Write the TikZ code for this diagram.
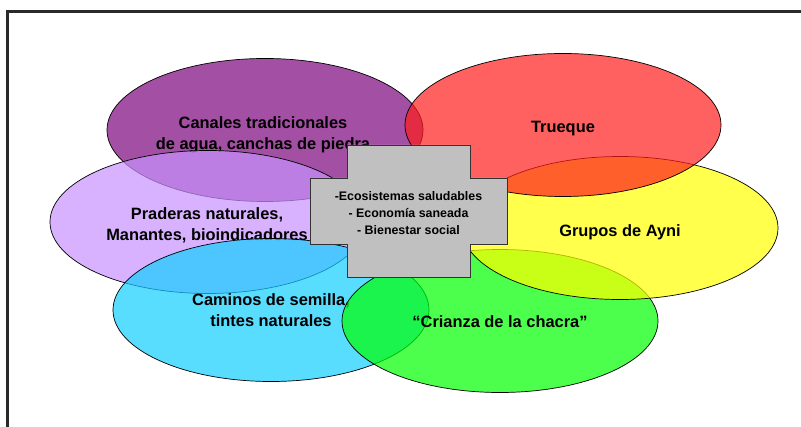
\documentclass[tikz,border=0pt]{standalone}
\usepackage{fontspec}
\setmainfont{Liberation Sans}
\usetikzlibrary{shapes.geometric}
\definecolor{cPurple}{RGB}{124,4,124}
\definecolor{cRed}{RGB}{255,28,28}
\definecolor{cLilac}{RGB}{201,146,255}
\definecolor{cYellow}{RGB}{255,255,0}
\definecolor{cCyan}{RGB}{18,206,255}
\definecolor{cGreen}{RGB}{0,255,0}
\definecolor{cCross}{RGB}{192,192,192}
\definecolor{cFrame}{RGB}{42,42,42}
\begin{document}
\begin{tikzpicture}[x=1pt,y=-1pt,
  blob/.style={ellipse, draw=black, line width=0.7pt, fill opacity=0.7,
    inner sep=0pt, minimum width=316pt, minimum height=143pt},
  blobtext/.style={align=center, inner sep=0pt,
    font=\bfseries\fontsize{16.4}{21}\selectfont},
  crossbox/.style={fill=cCross, draw=black!80, line width=0.9pt},
  crosstext/.style={align=center, font=\bfseries\fontsize{12.4}{17}\selectfont},
  frameline/.style={draw=cFrame, line width=2.5pt}
]
\useasboundingbox (0,0) rectangle (801,427);
\draw[frameline] (801,11.5) -- (7.5,11.5) -- (7.5,427);

\node[blob, fill=cPurple] (canales) at (265,130) {};
\node[blobtext] (canalesT) at (263,134.5) {Canales tradicionales\\de agua, canchas de piedra};
\node[blob, fill=cLilac]  (praderas) at (208,222) {};
\node[blobtext] (praderasT) at (207,225.5) {Praderas naturales,\\Manantes, bioindicadores};
\node[blob, fill=cCyan]   (caminos) at (271,310) {};
\node[blobtext] (caminosT) at (271,310) {Caminos de semilla,\\tintes naturales};
\node[blob, fill=cGreen]  (crianza) at (500,321) {};
\node[blobtext] (crianzaT) at (500,322) {“Crianza de la chacra”};
\node[blob, fill=cYellow] (ayni) at (620,228) {};
\node[blobtext] (ayniT) at (620,232) {Grupos de Ayni};
\node[blob, fill=cRed]    (trueque) at (563,125) {};
\node[blobtext] (truequeT) at (563,129) {Trueque};

\draw[crossbox] (347,145) -- (470,145) -- (470,178) -- (507,178) -- (507,244) -- (470,244)
  -- (470,277) -- (347,277) -- (347,244) -- (310,244) -- (310,178) -- (347,178) -- cycle;
\node[crosstext] (centro) at (408.5,213) {-Ecosistemas saludables\\- Economía saneada\\- Bienestar social};
\end{tikzpicture}
\end{document}
